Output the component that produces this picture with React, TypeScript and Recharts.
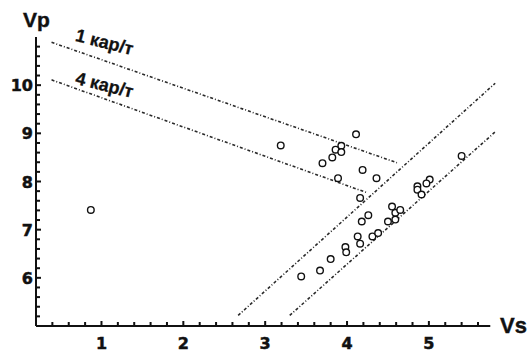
import React from 'react';
import { ScatterChart, Scatter, XAxis, YAxis, ReferenceLine, ReferenceDot } from 'recharts';

// measured samples
const vs = [
  0.87, 3.19, 4.11, 3.93, 3.86, 3.93, 3.82, 3.70, 4.19, 3.89, 4.36, 4.16,
  4.55, 4.59, 4.65, 4.26, 4.18, 4.50, 4.59, 4.13, 4.31, 4.38, 4.16, 3.98,
  3.99, 3.80, 3.67, 3.44, 5.01, 4.97, 4.86, 4.86, 4.91, 5.40,
];
const vp = [
  7.41, 8.75, 8.98, 8.74, 8.66, 8.61, 8.50, 8.38, 8.24, 8.07, 8.07, 7.66,
  7.48, 7.35, 7.41, 7.30, 7.17, 7.17, 7.21, 6.86, 6.86, 6.93, 6.71, 6.64,
  6.53, 6.39, 6.15, 6.03, 8.04, 7.96, 7.90, 7.83, 7.73, 8.53,
];

// trend lines (two end points each)
const line1Vs = [0.39, 4.61];
const line1Vp = [10.89, 8.39];
const line4Vs = [0.39, 4.24];
const line4Vp = [10.11, 7.77];
const upperBandVs = [2.67, 5.81];
const upperBandVp = [5.22, 10.04];
const lowerBandVs = [3.3, 5.81];
const lowerBandVp = [5.22, 9.03];

const xTicks = [
  0.4, 0.6, 0.8, 1, 1.2, 1.4, 1.6, 1.8, 2, 2.2, 2.4, 2.6, 2.8, 3, 3.2, 3.4,
  3.6, 3.8, 4, 4.2, 4.4, 4.6, 4.8, 5, 5.2, 5.4, 5.6,
];
const yTicks = [
  5.2, 5.4, 5.6, 5.8, 6, 6.2, 6.4, 6.6, 6.8, 7, 7.2, 7.4, 7.6, 7.8, 8, 8.2,
  8.4, 8.6, 8.8, 9, 9.2, 9.4, 9.6, 9.8, 10, 10.2, 10.4, 10.6, 10.8,
];

const xDomain = [0.2, 5.82];
const xAxisEnd = 5.75;
const yDomain = [5, 11];

const font = '"Liberation Sans", Arial, sans-serif';
const tickFont = '"DejaVu Sans", sans-serif';
const ink = '#111';
const dash = '#2a2a2a';

const toPoints = (xs: number[], ys: number[]) => xs.map((x, i) => ({ x, y: ys[i] }));

const samples = toPoints(vs, vp);
const trendLines = [
  toPoints(line1Vs, line1Vp),
  toPoints(line4Vs, line4Vp),
  toPoints(upperBandVs, upperBandVp),
  toPoints(lowerBandVs, lowerBandVp),
];

// tick marks sit on the axes, drawn as marker series so they follow the scales
const xTickMarks = xTicks.map((v) => ({ x: v, y: yDomain[0] }));
const yTickMarks = yTicks.map((v) => ({ x: xDomain[0], y: v }));

const isMajor = (v: number) => Math.abs(v - Math.round(v)) < 1e-6;

const heavy = { fontWeight: 'bold' as const, fill: ink, stroke: ink, strokeWidth: 0.5 };

const xTickShape = (p: any) => {
  const v = p.payload.x;
  const major = isMajor(v);
  return (
    <g>
      <rect x={p.cx - 1} y={p.cy - (major ? 5 : 4)} width={2} height={major ? 5 : 4} fill={ink} />
      {major && (
        <text x={p.cx} y={p.cy + 23} textAnchor="middle" fontFamily={tickFont} fontSize={16} {...heavy}>
          {v}
        </text>
      )}
    </g>
  );
};

const yTickShape = (p: any) => {
  const v = p.payload.y;
  const major = isMajor(v);
  return (
    <g>
      <rect x={p.cx} y={p.cy - 1} width={major ? 5 : 4} height={2} fill={ink} />
      {major && (
        <text x={p.cx - 3} y={p.cy + 6} textAnchor="end" fontFamily={tickFont} fontSize={16} {...heavy}>
          {v}
        </text>
      )}
    </g>
  );
};

const noMarker = () => <g />;

const circle = (p: any) => (
  <circle cx={p.cx} cy={p.cy} r={3.3} fill="#fff" stroke="#111" strokeWidth={1.4} />
);

const curveLabel = (text: string) => (p: any) => (
  <text
    x={p.cx}
    y={p.cy}
    transform={`rotate(14 ${p.cx} ${p.cy})`}
    fontFamily={font}
    fontSize={18}
    {...heavy}
    strokeWidth={0.3}
  >
    {text}
  </text>
);

export default function App() {
  return (
    <div style={{ position: 'absolute', left: 0, top: 0, width: 531, height: 352, background: '#fff' }}>
      <ScatterChart width={531} height={352} margin={{ top: 37, right: 35, left: 0, bottom: 0 }}>
        <XAxis type="number" dataKey="x" domain={xDomain} height={26} axisLine={false} tick={false} tickLine={false} />
        <YAxis
          type="number"
          dataKey="y"
          domain={yDomain}
          width={36}
          axisLine={{ stroke: ink, strokeWidth: 2 }}
          tick={false}
          tickLine={false}
        />
        <ReferenceLine
          segment={[{ x: xDomain[0], y: yDomain[0] }, { x: xAxisEnd, y: yDomain[0] }]}
          stroke={ink}
          strokeWidth={2}
        />
        <Scatter data={xTickMarks} shape={xTickShape} isAnimationActive={false} />
        <Scatter data={yTickMarks} shape={yTickShape} isAnimationActive={false} />
        {trendLines.map((pts, i) => (
          <Scatter
            key={i}
            data={pts}
            line={{ stroke: dash, strokeWidth: 1.6, strokeDasharray: '3 2 1 2' }}
            lineType="joint"
            shape={noMarker}
            isAnimationActive={false}
          />
        ))}
        <Scatter data={samples} shape={circle} isAnimationActive={false} />
        <ReferenceDot x={0.67} y={10.92} r={0} shape={curveLabel('1 кар/т')} />
        <ReferenceDot x={0.67} y={10.03} r={0} shape={curveLabel('4 кар/т')} />
      </ScatterChart>
      <svg width={531} height={352} style={{ position: 'absolute', left: 0, top: 0, pointerEvents: 'none' }}>
        <text x={23} y={27} fontFamily={font} fontSize={21} {...heavy} strokeWidth={0.4}>Vp</text>
        <text x={500} y={333} fontFamily={font} fontSize={22} {...heavy} strokeWidth={0.4}>Vs</text>
      </svg>
    </div>
  );
}
